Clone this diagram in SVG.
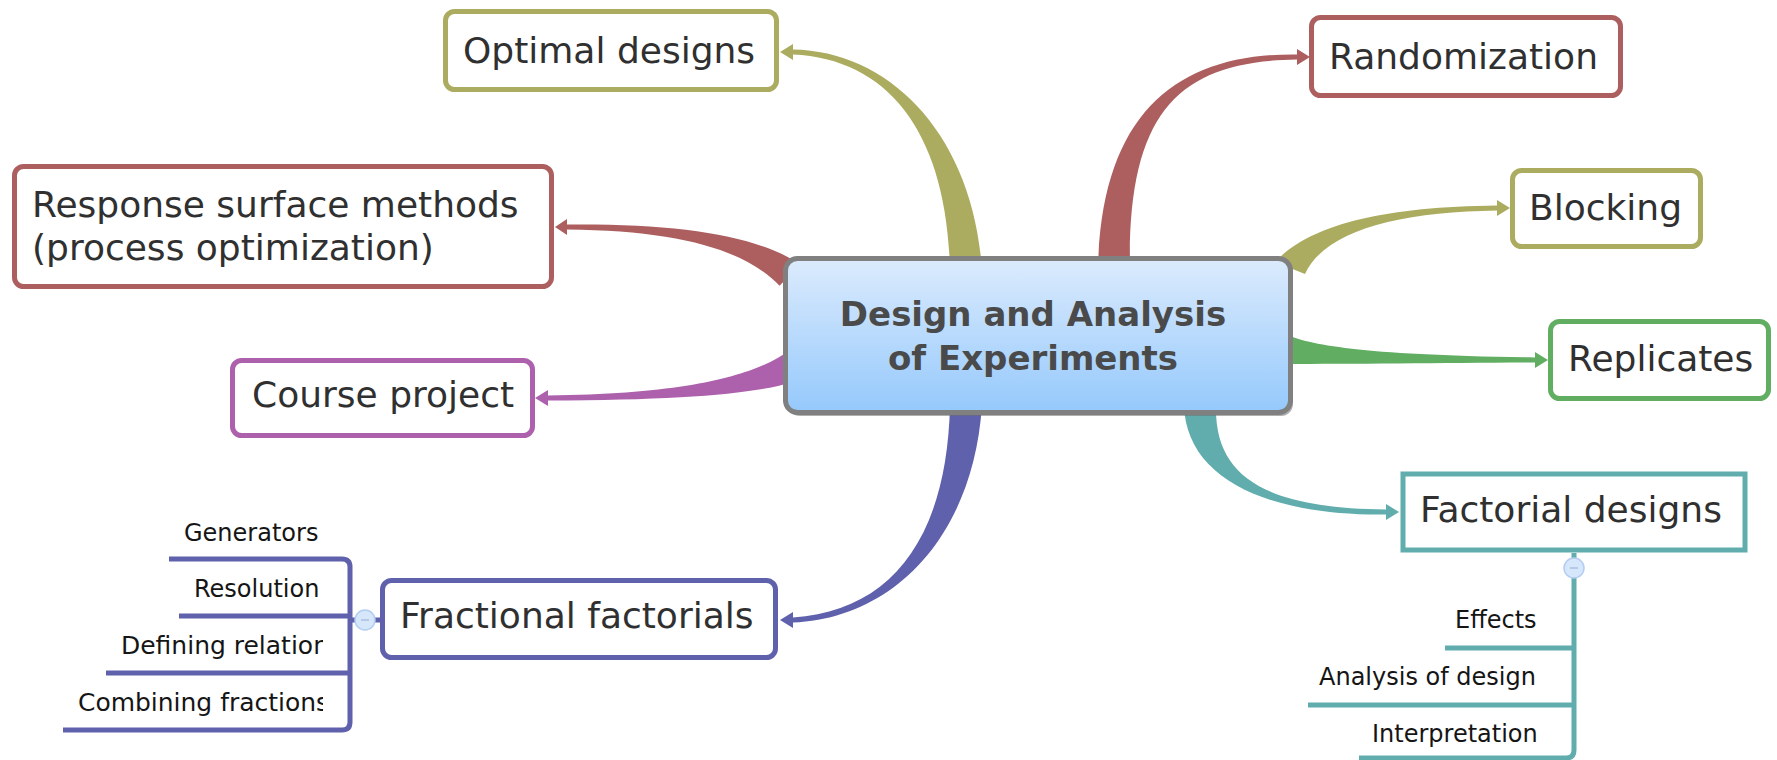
<svg xmlns="http://www.w3.org/2000/svg" width="1777" height="760" viewBox="0 0 1777 760">
<style>
.box{fill:#fff;stroke-width:5}
.lbl{font-family:"DejaVu Sans","Liberation Sans",sans-serif;font-size:36px;fill:#303030}
.sub{font-family:"DejaVu Sans","Liberation Sans",sans-serif;font-size:24px;fill:#151515}
.ol{fill:#abac5f}.rd{fill:#ad5f5f}.gr{fill:#61ae62}.tl{fill:#61adad}.pu{fill:#ad61ad}.bl{fill:#6061ad}
.sol{stroke:#abac5f}.srd{stroke:#ad5f5f}.sgr{stroke:#61ae62}.stl{stroke:#61adad}.spu{stroke:#ad61ad}.sbl{stroke:#6061ad}
.br{fill:none;stroke-width:5}
.tog{fill:#d6e7fc;stroke:#b3cdf1;stroke-width:1.5}
</style>
<defs>
<linearGradient id="cg" x1="0" y1="0" x2="0" y2="1">
<stop offset="0" stop-color="#dcebfd"/>
<stop offset="1" stop-color="#95c9fc"/>
</linearGradient>
<clipPath id="clipL"><rect x="0" y="500" width="323" height="260"/></clipPath>
</defs>

<g id="connectors">
<path class="ol" d="M982,270 C973,135 890,51 793,49.5 L793,54.5 C890,59 947,135 950,270 Z"/>
<polygon class="ol" points="780,52 793,44 793,60"/>
<path class="rd" d="M1098,270 C1101,110 1180,53 1297,54.5 L1297,59.5 C1180,61 1127,110 1130,270 Z"/>
<polygon class="rd" points="1310,57 1297,49 1297,65"/>
<path class="rd" d="M800.4,264.2 C755,235 680,223.5 567,224.5 L567,229.5 C680,230.5 745,250 779.6,285.8 Z"/>
<polygon class="rd" points="555,227 567,219 567,235"/>
<path class="pu" d="M790,350 C760,372 700,394 548,395.5 L548,400.5 C680,400 750,394 790,383 Z"/>
<polygon class="pu" points="535,398 548,390 548,406"/>
<path class="bl" d="M982,405 C973,540 890,619 793,622.5 L793,617.5 C890,611 947,540 950,405 Z"/>
<polygon class="bl" points="780,620 793,612 793,628"/>
<path class="ol" d="M1275,262 C1310,225 1380,207 1497,205.5 L1497,210.5 C1400,212 1325,230 1305,274 Z"/>
<polygon class="ol" points="1510,208 1497,200 1497,216"/>
<path class="gr" d="M1285,334 C1310,345 1360,355 1535,357.5 L1535,362.5 C1450,363 1350,364 1285,364 Z"/>
<polygon class="gr" points="1548,360 1535,352 1535,368"/>
<path class="tl" d="M1184,405 C1186,480 1270,516 1386,514.5 L1386,509.5 C1270,508 1214,480 1216,405 Z"/>
<polygon class="tl" points="1399,512 1386,504 1386,520"/>
</g>

<g id="central">
<rect x="788" y="262" width="505" height="154" rx="12" fill="#6e6e6e" opacity="0.55"/>
<rect x="785.5" y="258.5" width="505" height="154" rx="12" fill="url(#cg)" stroke="#808080" stroke-width="5"/>
<text x="1033" y="326" text-anchor="middle" font-family="'DejaVu Sans','Liberation Sans',sans-serif" font-weight="bold" font-size="34" fill="#4a4a4a">Design and Analysis</text>
<text x="1033" y="370" text-anchor="middle" font-family="'DejaVu Sans','Liberation Sans',sans-serif" font-weight="bold" font-size="34" fill="#4a4a4a">of Experiments</text>
</g>

<g id="optimal">
<rect class="box sol" x="445.5" y="11.5" width="331" height="78" rx="9"/>
<text class="lbl" x="463" y="63">Optimal designs</text>
</g>
<g id="randomization">
<rect class="box srd" x="1311.5" y="17.5" width="309" height="78" rx="9"/>
<text class="lbl" x="1329" y="69">Randomization</text>
</g>
<g id="response">
<rect class="box srd" x="14.5" y="166.5" width="537" height="120" rx="9"/>
<text class="lbl" x="32" y="217">Response surface methods</text>
<text class="lbl" x="32" y="260">(process optimization)</text>
</g>
<g id="blocking">
<rect class="box sol" x="1512.5" y="170.5" width="188" height="76" rx="9"/>
<text class="lbl" x="1529" y="220">Blocking</text>
</g>
<g id="replicates">
<rect class="box sgr" x="1550.5" y="321.5" width="218" height="77" rx="9"/>
<text class="lbl" x="1568" y="371">Replicates</text>
</g>
<g id="course">
<rect class="box spu" x="232.5" y="360.5" width="300" height="75" rx="9"/>
<text class="lbl" x="252" y="407">Course project</text>
</g>

<g id="fractional">
<path class="br sbl" d="M169,559 H342 Q350,559 350,567 V722 Q350,730 342,730 H63"/>
<path class="br sbl" d="M179,616 H350 M106,673 H350 M350,620 H382"/>
<circle class="tog" cx="365" cy="620" r="10"/>
<path d="M361,620 H369" stroke="#9fb6d8" stroke-width="1.2"/>
<rect class="box sbl" x="382.5" y="580.5" width="393" height="77" rx="9"/>
<text class="lbl" x="400" y="628">Fractional factorials</text>
</g>
<g id="generators"><text class="sub" x="184" y="541">Generators</text></g>
<g id="resolution"><text class="sub" x="194" y="597">Resolution</text></g>
<g id="defining"><text class="sub" x="121" y="654" textLength="208" lengthAdjust="spacingAndGlyphs" clip-path="url(#clipL)">Defining relation</text></g>
<g id="combining"><text class="sub" x="78" y="711" textLength="251" lengthAdjust="spacingAndGlyphs" clip-path="url(#clipL)">Combining fractions</text></g>

<g id="factorial">
<path class="br stl" d="M1574,553 V750 Q1574,758 1566,758 H1359"/>
<path class="br stl" d="M1445,648 H1574 M1308,705 H1574"/>
<circle class="tog" cx="1574" cy="568" r="10"/>
<path d="M1570,568 H1578" stroke="#9fb6d8" stroke-width="1.2"/>
<rect class="box stl" x="1403" y="474" width="342" height="76" stroke-width="6"/>
<text class="lbl" x="1420" y="522">Factorial designs</text>
</g>
<g id="effects"><text class="sub" x="1455" y="628">Effects</text></g>
<g id="analysis"><text class="sub" x="1319" y="685">Analysis of design</text></g>
<g id="interpretation"><text class="sub" x="1372" y="742">Interpretation</text></g>
</svg>
